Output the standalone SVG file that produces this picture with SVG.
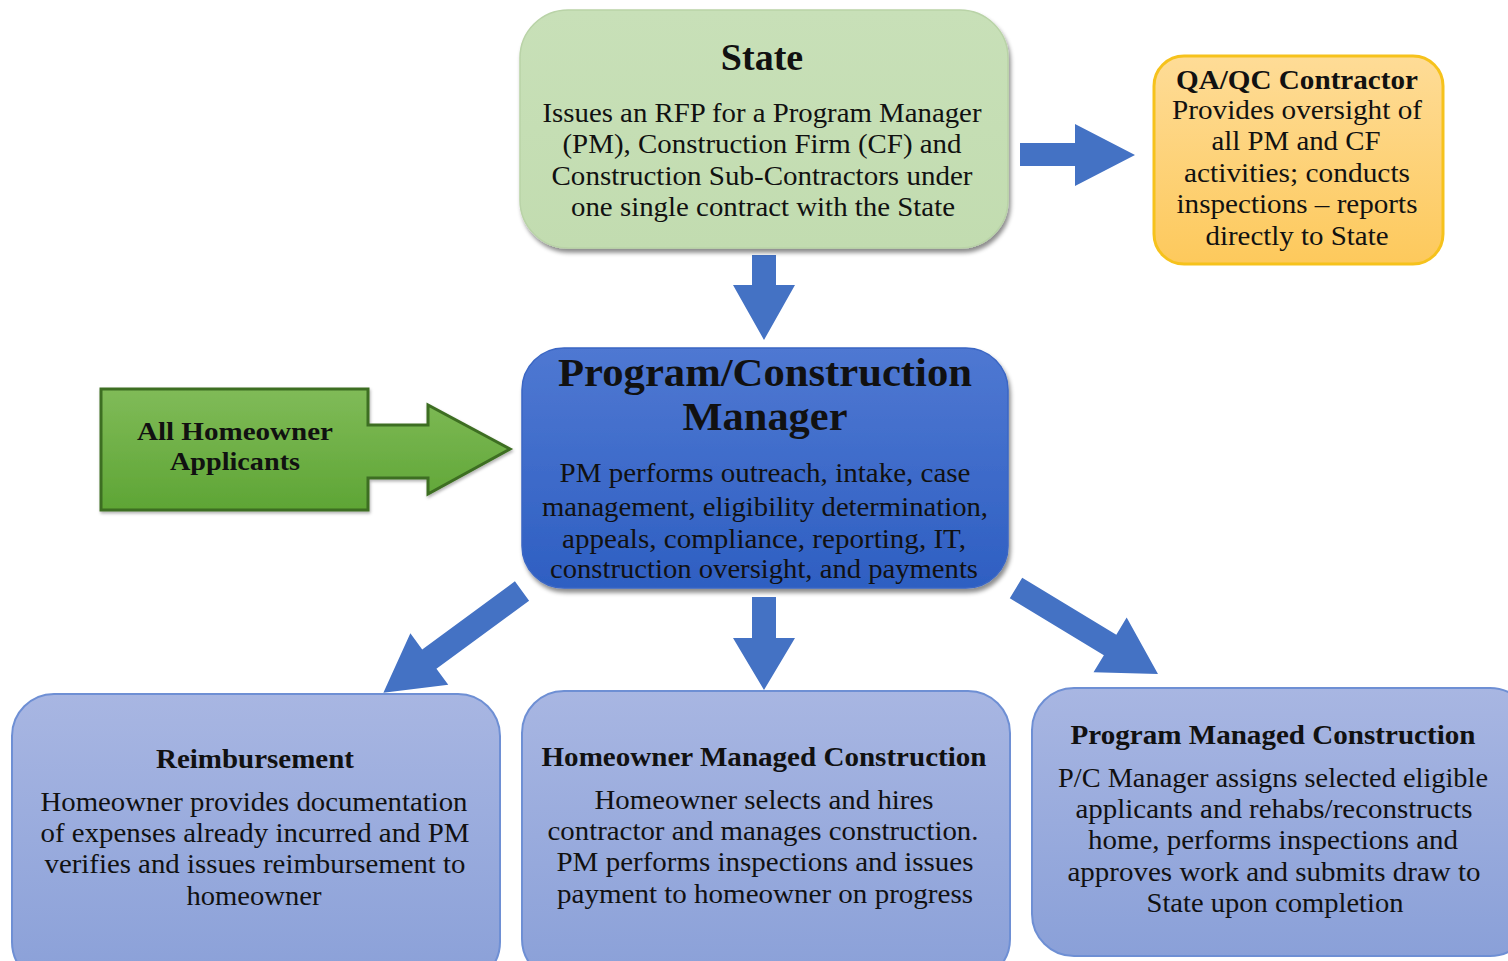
<svg xmlns="http://www.w3.org/2000/svg" width="1508" height="961" viewBox="0 0 1508 961">
<defs>
<linearGradient id="gState" x1="0" y1="0" x2="0" y2="1"><stop offset="0" stop-color="#c8e0b8"/><stop offset="1" stop-color="#c2dcb0"/></linearGradient>
<linearGradient id="gQA" x1="0" y1="0" x2="0" y2="1"><stop offset="0" stop-color="#fedc97"/><stop offset="1" stop-color="#fdc95c"/></linearGradient>
<linearGradient id="gPM" x1="0" y1="0" x2="0" y2="1"><stop offset="0" stop-color="#4f78d2"/><stop offset="1" stop-color="#2e5fc2"/></linearGradient>
<linearGradient id="gGreen" x1="0" y1="0" x2="0" y2="1"><stop offset="0" stop-color="#80bb58"/><stop offset="1" stop-color="#5ea535"/></linearGradient>
<linearGradient id="gLow" x1="0" y1="0" x2="0" y2="1"><stop offset="0" stop-color="#a8b6e2"/><stop offset="1" stop-color="#8aa0d8"/></linearGradient>
<filter id="sh" x="-5%" y="-5%" width="110%" height="115%"><feDropShadow dx="2" dy="4" stdDeviation="2" flood-color="#000" flood-opacity="0.45"/></filter>
<filter id="sh2" x="-5%" y="-5%" width="110%" height="115%"><feDropShadow dx="1" dy="2" stdDeviation="1.5" flood-color="#000" flood-opacity="0.3"/></filter>
</defs>
<style>
text{font-family:"Liberation Serif","DejaVu Serif",serif;fill:#111;text-anchor:middle}
.b{font-weight:bold}
.body{font-size:27px}
.low{font-size:28px}
.arr{fill:#4472c4}
</style>

<g id="connectors">
<path class="arr" d="M1020,143 H1075 V124 L1135,155 L1075,186 V166 H1020 Z"/>
<path class="arr" d="M752,255 H776 V285 H795 L764,340 L733,285 H752 Z"/>
<path class="arr" d="M752,597 H776 V638 H795 L764,690 L733,638 H752 Z"/>
<path class="arr" transform="translate(522,591) rotate(143.7)" d="M0,-12 H115 V-32 L172,0 L115,32 V12 H0 Z"/>
<path class="arr" transform="translate(1016,588) rotate(31.2)" d="M0,-12 H110 V-32 L166,0 L110,32 V12 H0 Z"/>
</g>

<g id="state">
<rect x="520" y="10" width="488" height="238" rx="48" fill="url(#gState)" stroke="#b9d3a7" stroke-width="1.5" filter="url(#sh)"/>
<text x="762" y="70" class="b" font-size="38">State</text>
<text x="762" y="122" class="body" textLength="439" lengthAdjust="spacingAndGlyphs">Issues an RFP for a Program Manager</text>
<text x="762" y="153" class="body" textLength="399" lengthAdjust="spacingAndGlyphs">(PM), Construction Firm (CF) and</text>
<text x="762" y="185" class="body" textLength="421" lengthAdjust="spacingAndGlyphs">Construction Sub-Contractors under</text>
<text x="763" y="216" class="body" textLength="384" lengthAdjust="spacingAndGlyphs">one single contract with the State</text>
</g>

<g id="qaqc">
<rect x="1154" y="56" width="289" height="208" rx="30" fill="url(#gQA)" stroke="#f6c21c" stroke-width="3"/>
<text x="1297" y="89" class="b" font-size="27" textLength="242" lengthAdjust="spacingAndGlyphs">QA/QC Contractor</text>
<text x="1297" y="119" class="body" textLength="250" lengthAdjust="spacingAndGlyphs">Provides oversight of</text>
<text x="1296" y="150" class="body" textLength="169" lengthAdjust="spacingAndGlyphs">all PM and CF</text>
<text x="1297" y="182" class="body" textLength="226" lengthAdjust="spacingAndGlyphs">activities;  conducts</text>
<text x="1297" y="213" class="body" textLength="241" lengthAdjust="spacingAndGlyphs">inspections – reports</text>
<text x="1297" y="245" class="body" textLength="183" lengthAdjust="spacingAndGlyphs">directly to State</text>
</g>

<g id="pm">
<rect x="522" y="348" width="486" height="240" rx="42" fill="url(#gPM)" stroke="#3a66c4" stroke-width="1.5" filter="url(#sh)"/>
<text x="765" y="386" class="b" font-size="40" textLength="414" lengthAdjust="spacingAndGlyphs">Program/Construction</text>
<text x="765" y="430" class="b" font-size="40" textLength="165" lengthAdjust="spacingAndGlyphs">Manager</text>
<text x="765" y="482" class="body" textLength="411" lengthAdjust="spacingAndGlyphs">PM performs outreach, intake, case</text>
<text x="765" y="516" class="body" textLength="446" lengthAdjust="spacingAndGlyphs">management, eligibility determination,</text>
<text x="764" y="548" class="body" textLength="404" lengthAdjust="spacingAndGlyphs">appeals, compliance, reporting, IT,</text>
<text x="764" y="578" class="body" textLength="428" lengthAdjust="spacingAndGlyphs">construction oversight, and payments</text>
</g>

<g id="applicants">
<path d="M101,389 H368 V425 H428 V405 L510,449 L428,494 V478 H368 V510 H101 Z" fill="url(#gGreen)" stroke="#3d6e22" stroke-width="3" stroke-linejoin="miter" filter="url(#sh2)"/>
<text x="235" y="440" class="b" font-size="25" textLength="196" lengthAdjust="spacingAndGlyphs">All Homeowner</text>
<text x="235" y="470" class="b" font-size="25" textLength="130" lengthAdjust="spacingAndGlyphs">Applicants</text>
</g>

<g id="reimbursement">
<rect x="12" y="694" width="488" height="290" rx="42" fill="url(#gLow)" stroke="#6e8fd4" stroke-width="2"/>
<text x="255" y="768" class="b" font-size="27" textLength="198" lengthAdjust="spacingAndGlyphs">Reimbursement</text>
<text x="254" y="811" class="low" textLength="427" lengthAdjust="spacingAndGlyphs">Homeowner provides documentation</text>
<text x="255" y="842" class="low" textLength="429" lengthAdjust="spacingAndGlyphs">of expenses already incurred and PM</text>
<text x="255" y="873" class="low" textLength="421" lengthAdjust="spacingAndGlyphs">verifies and issues reimbursement to</text>
<text x="254" y="905" class="low" textLength="135" lengthAdjust="spacingAndGlyphs">homeowner</text>
</g>

<g id="homeowner-managed">
<rect x="522" y="691" width="488" height="290" rx="42" fill="url(#gLow)" stroke="#6e8fd4" stroke-width="2"/>
<text x="764" y="766" class="b" font-size="27" textLength="445" lengthAdjust="spacingAndGlyphs">Homeowner Managed Construction</text>
<text x="764" y="809" class="low" textLength="339" lengthAdjust="spacingAndGlyphs">Homeowner selects and hires</text>
<text x="763" y="840" class="low" textLength="431" lengthAdjust="spacingAndGlyphs">contractor and manages construction.</text>
<text x="765" y="871" class="low" textLength="417" lengthAdjust="spacingAndGlyphs">PM performs inspections and issues</text>
<text x="765" y="903" class="low" textLength="416" lengthAdjust="spacingAndGlyphs">payment to homeowner on progress</text>
</g>

<g id="program-managed">
<rect x="1032" y="688" width="500" height="268" rx="42" fill="url(#gLow)" stroke="#6e8fd4" stroke-width="2"/>
<text x="1273" y="744" class="b" font-size="27" textLength="405" lengthAdjust="spacingAndGlyphs">Program Managed Construction</text>
<text x="1273" y="787" class="low" textLength="430" lengthAdjust="spacingAndGlyphs">P/C Manager assigns selected eligible</text>
<text x="1274" y="818" class="low" textLength="397" lengthAdjust="spacingAndGlyphs">applicants and rehabs/reconstructs</text>
<text x="1273" y="849" class="low" textLength="370" lengthAdjust="spacingAndGlyphs">home, performs inspections and</text>
<text x="1274" y="881" class="low" textLength="413" lengthAdjust="spacingAndGlyphs">approves work and submits draw to</text>
<text x="1275" y="912" class="low" textLength="257" lengthAdjust="spacingAndGlyphs">State upon completion</text>
</g>
</svg>
